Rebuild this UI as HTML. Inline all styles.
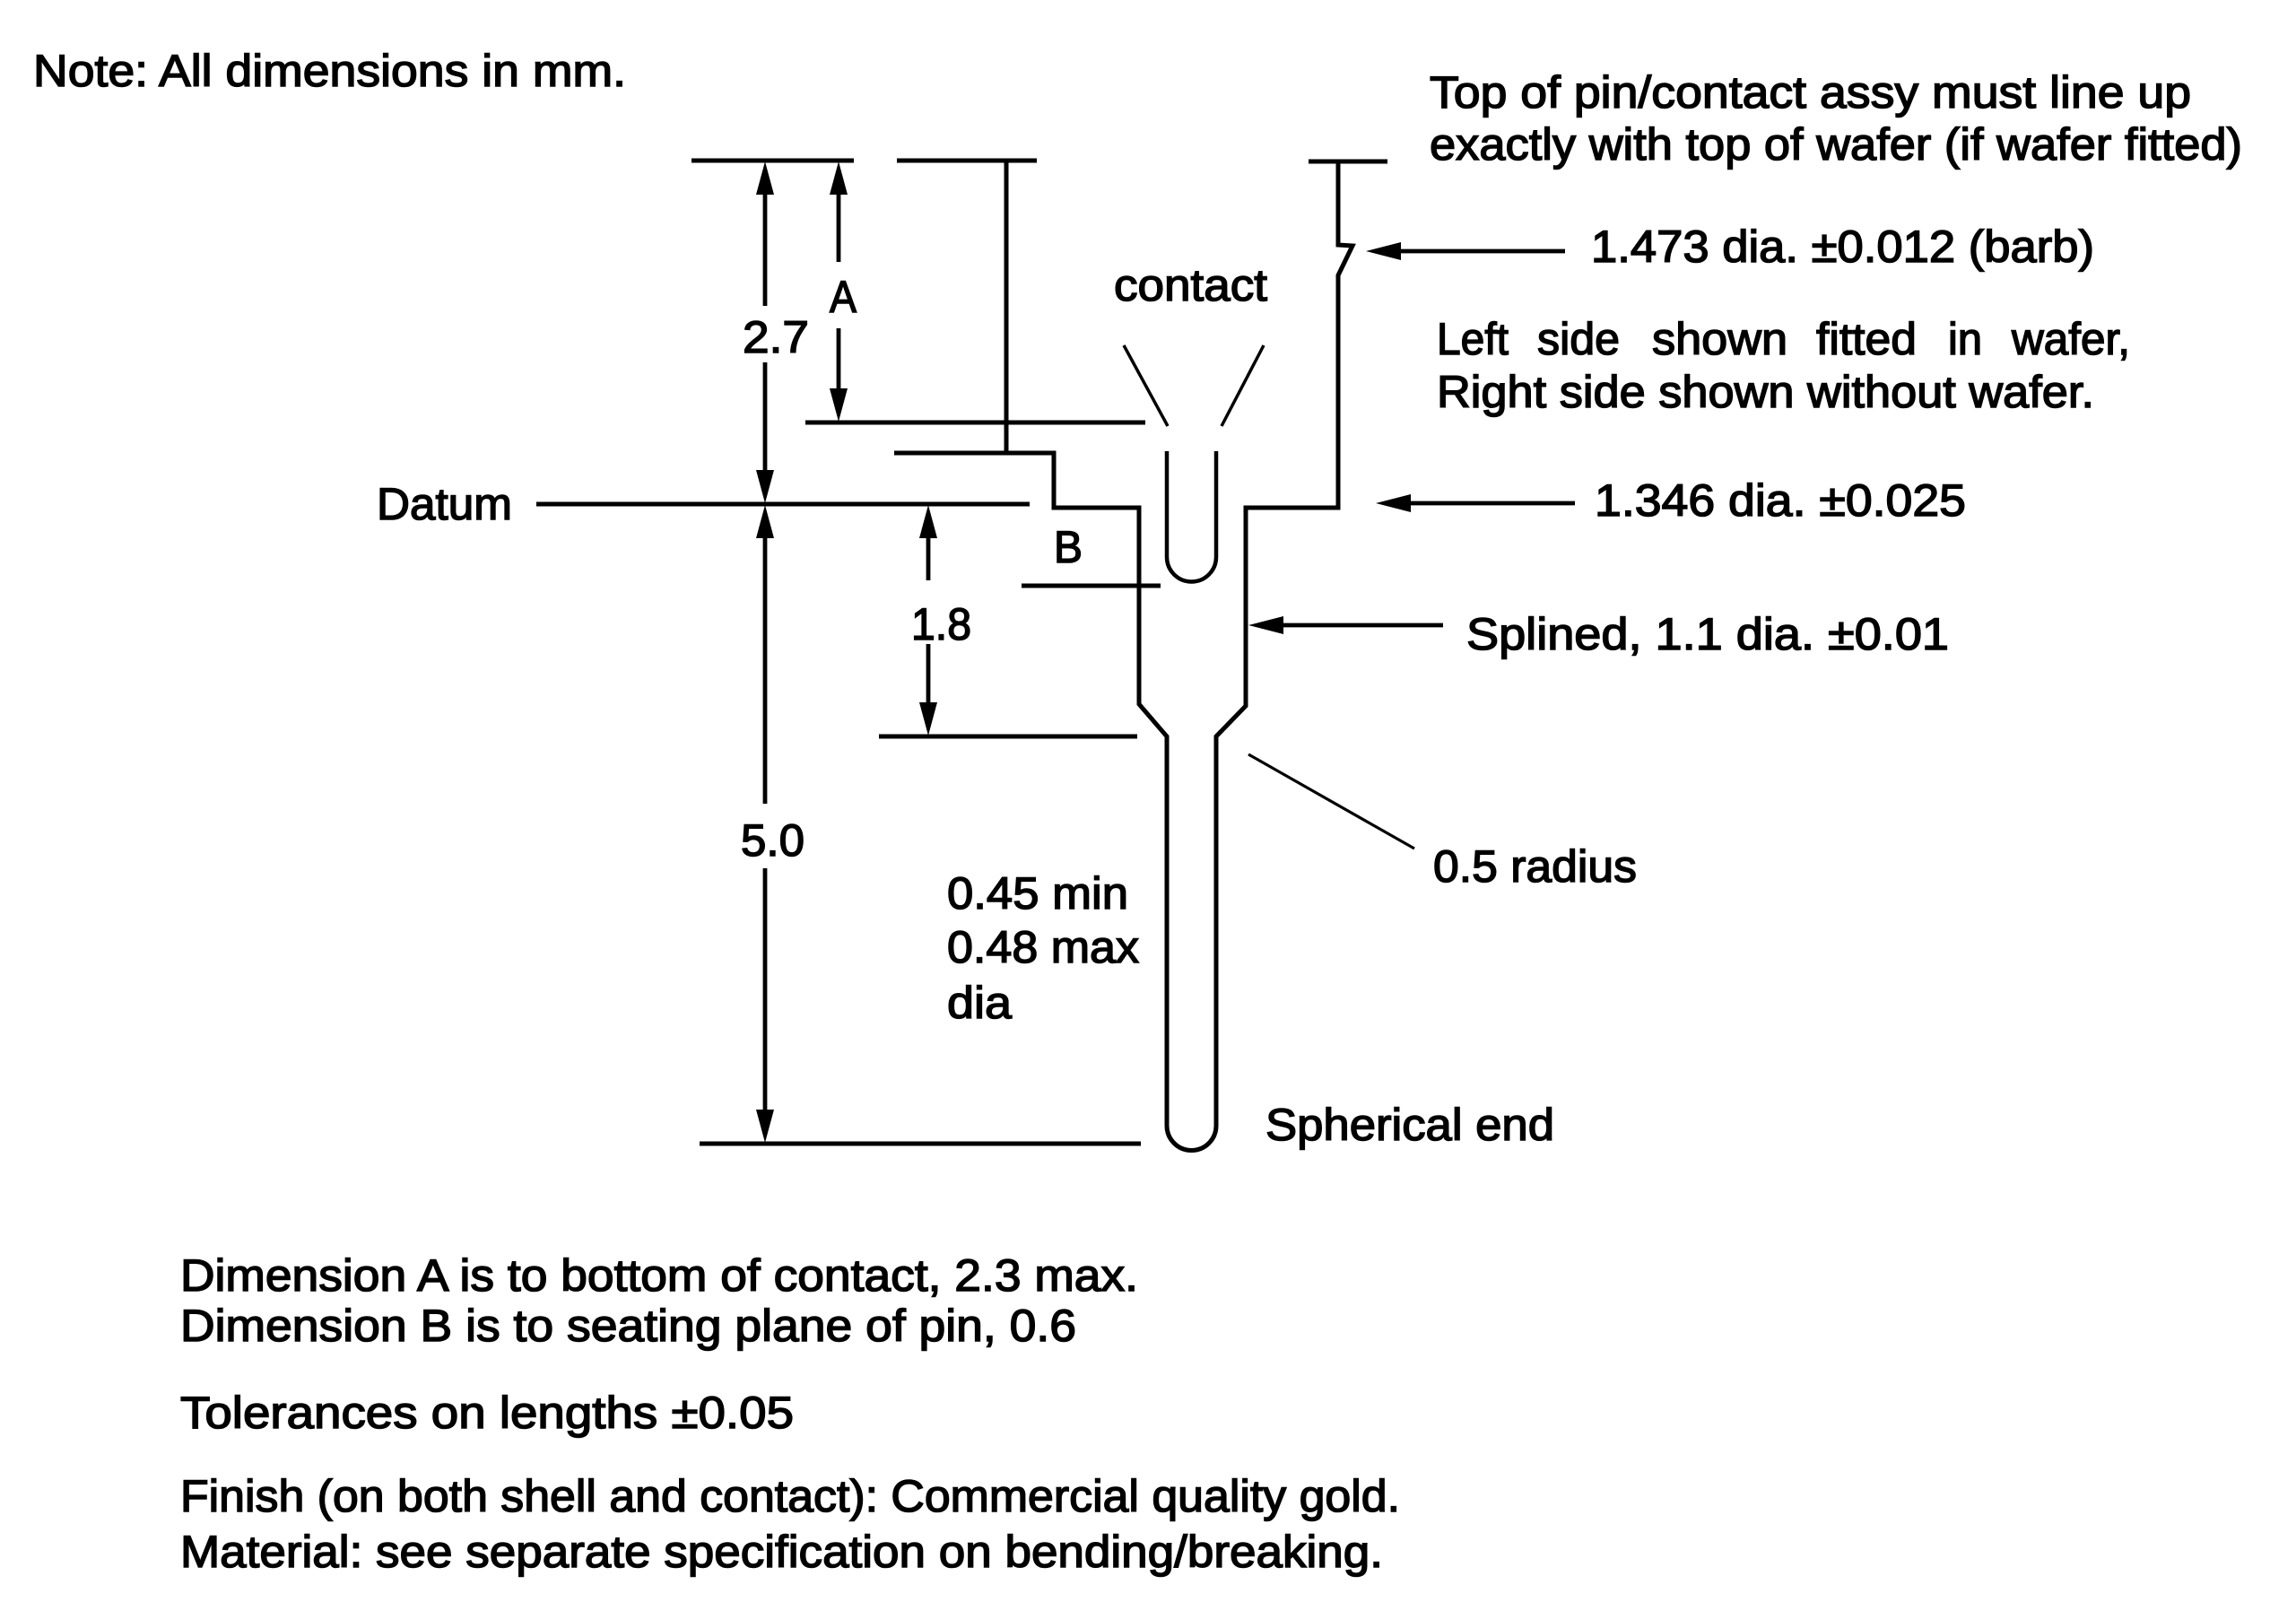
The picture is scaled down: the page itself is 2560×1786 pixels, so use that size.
<!DOCTYPE html>
<html>
<head>
<meta charset="utf-8">
<style>
  html, body { margin: 0; padding: 0; background: #fff; }
  svg { display: block; }
  text { font-family: "Liberation Sans", Arial, sans-serif; font-size: 50px; fill: #000; stroke: #000; stroke-width: 1.5px; }
</style>
</head>
<body>
<svg width="2560" height="1786" viewBox="0 0 2560 1786" xmlns="http://www.w3.org/2000/svg">
  <rect x="0" y="0" width="2560" height="1786" fill="#fff"/>

  <!-- extension / reference lines -->
  <g stroke="#000" stroke-width="5" fill="none" stroke-linecap="butt">
    <line x1="771" y1="179" x2="952" y2="179"/>
    <line x1="1000" y1="179" x2="1156" y2="179"/>
    <line x1="1122" y1="179" x2="1122" y2="505"/>
    <line x1="898" y1="471" x2="1277" y2="471"/>
    <line x1="598" y1="562" x2="1148" y2="562"/>
    <line x1="1139" y1="653" x2="1294" y2="653"/>
    <line x1="980" y1="821" x2="1268" y2="821"/>
    <line x1="780" y1="1275" x2="1272" y2="1275"/>
    <line x1="1459" y1="180" x2="1547" y2="180"/>
  </g>

  <!-- pin / wafer outline -->
  <path d="M 997,505 H 1175 V 566 H 1270 V 785 L 1301,821 V 1255 A 27.5 27.5 0 0 0 1356,1255 V 821 L 1389,787 V 566 H 1492 V 307 L 1508,274 L 1492,273 V 180"
        stroke="#000" stroke-width="5" fill="none" stroke-linejoin="miter"/>

  <!-- contact U -->
  <path d="M 1301,503 V 621 A 27.5 27.5 0 0 0 1356,621 V 503" stroke="#000" stroke-width="4.5" fill="none"/>
  <!-- contact V leaders -->
  <g stroke="#000" stroke-width="3.5">
    <line x1="1253" y1="385" x2="1302" y2="475"/>
    <line x1="1409" y1="385" x2="1362" y2="475"/>
  </g>

  <!-- radius leader -->
  <line x1="1392" y1="841" x2="1577" y2="946" stroke="#000" stroke-width="3.2"/>

  <!-- dimension lines -->
  <g stroke="#000" stroke-width="4.8">
    <line x1="853" y1="200" x2="853" y2="341"/>
    <line x1="853" y1="404" x2="853" y2="545"/>
    <line x1="853" y1="580" x2="853" y2="896"/>
    <line x1="853" y1="968" x2="853" y2="1258"/>
    <line x1="935" y1="200" x2="935" y2="292"/>
    <line x1="935" y1="366" x2="935" y2="452"/>
    <line x1="1035" y1="580" x2="1035" y2="647"/>
    <line x1="1035" y1="718" x2="1035" y2="803"/>
    <line x1="1545" y1="280" x2="1745" y2="280"/>
    <line x1="1556" y1="561" x2="1756" y2="561"/>
    <line x1="1414" y1="697" x2="1609" y2="697"/>
  </g>

  <!-- arrowheads -->
  <g fill="#000" stroke="none">
    <polygon points="853,180 843,217 863,217"/>
    <polygon points="853,561 843,524 863,524"/>
    <polygon points="853,563 843,600 863,600"/>
    <polygon points="853,1274 843,1237 863,1237"/>
    <polygon points="935,180 925,217 945,217"/>
    <polygon points="935,470 925,433 945,433"/>
    <polygon points="1035,563 1025,600 1045,600"/>
    <polygon points="1035,820 1025,783 1045,783"/>
    <polygon points="1523,280 1562,270 1562,290"/>
    <polygon points="1534,561 1573,551 1573,571"/>
    <polygon points="1392,697 1431,687 1431,707"/>
  </g>

  <!-- labels -->
  <text x="37" y="96" textLength="661" lengthAdjust="spacingAndGlyphs">Note: All dimensions in mm.</text>
  <text x="1594" y="120" textLength="849" lengthAdjust="spacingAndGlyphs">Top of pin/contact assy must line up</text>
  <text x="1594" y="178" textLength="906" lengthAdjust="spacingAndGlyphs">exactly with top of wafer (if wafer fitted)</text>
  <text x="1774" y="292" textLength="561" lengthAdjust="spacingAndGlyphs">1.473 dia. ±0.012 (barb)</text>
  <text x="1242" y="335" textLength="171" lengthAdjust="spacingAndGlyphs">contact</text>

  <text x="1602" y="395" textLength="80" lengthAdjust="spacingAndGlyphs">Left</text>
  <text x="1714" y="395" textLength="92" lengthAdjust="spacingAndGlyphs">side</text>
  <text x="1842" y="395" textLength="151" lengthAdjust="spacingAndGlyphs">shown</text>
  <text x="2025" y="395" textLength="112" lengthAdjust="spacingAndGlyphs">fitted</text>
  <text x="2172" y="395" textLength="38" lengthAdjust="spacingAndGlyphs">in</text>
  <text x="2243" y="395" textLength="132" lengthAdjust="spacingAndGlyphs">wafer,</text>

  <text x="1602" y="454" textLength="733" lengthAdjust="spacingAndGlyphs">Right side shown without wafer.</text>
  <text x="925" y="348" textLength="30" lengthAdjust="spacingAndGlyphs">A</text>
  <text x="828" y="393" textLength="74" lengthAdjust="spacingAndGlyphs">2.7</text>
  <text x="420" y="579" textLength="151" lengthAdjust="spacingAndGlyphs">Datum</text>
  <text x="1778" y="575" textLength="414" lengthAdjust="spacingAndGlyphs">1.346 dia. ±0.025</text>
  <text x="1175" y="627" textLength="32" lengthAdjust="spacingAndGlyphs">B</text>
  <text x="1016" y="713" textLength="67" lengthAdjust="spacingAndGlyphs">1.8</text>
  <text x="1635" y="724" textLength="538" lengthAdjust="spacingAndGlyphs">Splined, 1.1 dia. ±0.01</text>
  <text x="826" y="954" textLength="71" lengthAdjust="spacingAndGlyphs">5.0</text>
  <text x="1598" y="983" textLength="227" lengthAdjust="spacingAndGlyphs">0.5 radius</text>
  <text x="1056" y="1013" textLength="202" lengthAdjust="spacingAndGlyphs">0.45 min</text>
  <text x="1056" y="1073" textLength="214" lengthAdjust="spacingAndGlyphs">0.48 max</text>
  <text x="1056" y="1135" textLength="72" lengthAdjust="spacingAndGlyphs">dia</text>
  <text x="1411" y="1271" textLength="322" lengthAdjust="spacingAndGlyphs">Spherical end</text>

  <text x="201" y="1439" textLength="1068" lengthAdjust="spacingAndGlyphs">Dimension A is to bottom of contact, 2.3 max.</text>
  <text x="201" y="1495" textLength="999" lengthAdjust="spacingAndGlyphs">Dimension B is to seating plane of pin, 0.6</text>
  <text x="201" y="1592" textLength="684" lengthAdjust="spacingAndGlyphs">Tolerances on lengths ±0.05</text>
  <text x="201" y="1685" textLength="1360" lengthAdjust="spacingAndGlyphs">Finish (on both shell and contact): Commercial quality gold.</text>
  <text x="201" y="1747" textLength="1341" lengthAdjust="spacingAndGlyphs">Material: see separate specification on bending/breaking.</text>
</svg>
</body>
</html>
